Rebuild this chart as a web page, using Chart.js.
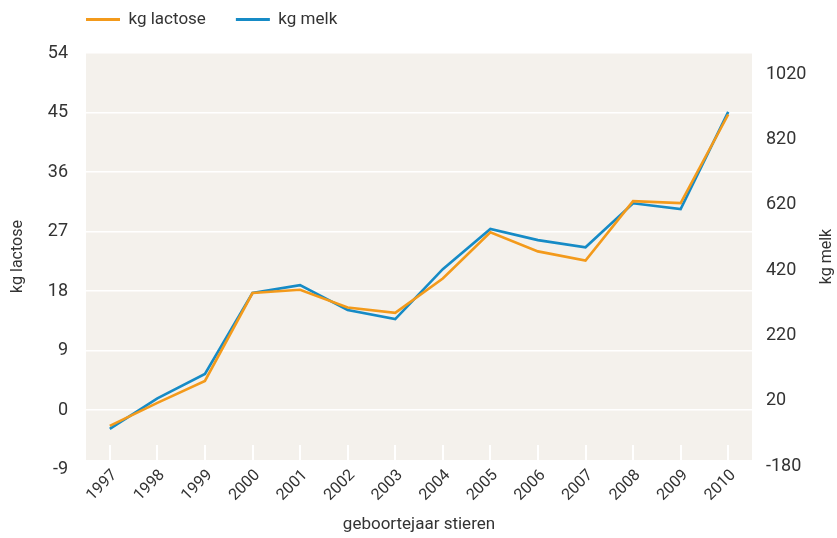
<!DOCTYPE html>
<html lang="nl">
  <head>
    <meta charset="UTF-8" />
    <title>kg lactose en kg melk per geboortejaar stieren</title>
    <style>
      body {
        margin: 0;
        padding: 0;
        background: #fff;
      }
      .chart-box {
        width: 837px;
        height: 538px;
      }
    </style>
  </head>
  <body>
    <div class="chart-box">
      <canvas id="lactoseChart"></canvas>
    </div>

    <script src="https://cdn.jsdelivr.net/npm/chart.js"></script>
    <script>
        // geboortejaar stieren
        const jaren = ['1997', '1998', '1999', '2000', '2001', '2002', '2003', '2004', '2005', '2006', '2007', '2008', '2009', '2010'];
        // kg lactose (linker as)
        const kgLactose = [-2.4, 1.1, 4.4, 17.7, 18.2, 15.5, 14.7, 19.9, 26.9, 24.0, 22.6, 31.6, 31.3, 44.7];
        // kg melk (rechter as)
        const kgMelk = [-66, 27, 102, 350, 374, 298, 270, 423, 546, 512, 490, 625, 607, 905];
        // aslabels
        const lactoseTicks = [-9, 0, 9, 18, 27, 36, 45, 54];
        const melkTicks = [-180, 20, 220, 420, 620, 820, 1020];

        const tekstKleur = '#333333';
        const fontFamily = 'Roboto, "Liberation Sans", sans-serif';

        // beige achtergrond van het plotvlak + titel rechter as (leesrichting van onder naar boven)
        const plotAchtergrond = {
            id: 'plotAchtergrond',
            beforeDraw(chart) {
                const { ctx, chartArea } = chart;
                ctx.save();
                ctx.fillStyle = '#f4f1ec';
                ctx.fillRect(chartArea.left, chartArea.top, chartArea.right - chartArea.left, chartArea.bottom - chartArea.top);
                ctx.restore();
            },
            afterDraw(chart) {
                const { ctx, chartArea } = chart;
                const as = chart.scales.y1;
                ctx.save();
                ctx.translate(as.right - 10, (chartArea.top + chartArea.bottom) / 2);
                ctx.rotate(-Math.PI / 2);
                ctx.fillStyle = tekstKleur;
                ctx.font = '16px ' + fontFamily;
                ctx.textAlign = 'center';
                ctx.textBaseline = 'middle';
                ctx.fillText('kg melk', 0, 0);
                ctx.restore();
            },
            // legenda links boven het plotvlak zetten
            afterLayout(chart) {
                const pad = chart.options.plugins.legend.labels.padding;
                chart.legend.left = chart.chartArea.left - pad;
                chart.legend.top = -19;
            }
        };

        const ctx = document.getElementById('lactoseChart').getContext('2d');
        const lactoseChart = new Chart(ctx, {
            type: 'line',
            data: {
                labels: jaren,
                datasets: [{
                    label: 'kg lactose',
                    data: kgLactose,
                    yAxisID: 'y',
                    borderColor: '#f39a1b',
                    backgroundColor: '#f39a1b',
                    borderWidth: 2.6,
                    pointRadius: 0,
                    tension: 0,
                }, {
                    label: 'kg melk',
                    data: kgMelk,
                    yAxisID: 'y1',
                    borderColor: '#168bc6',
                    backgroundColor: '#168bc6',
                    borderWidth: 2.6,
                    pointRadius: 0,
                    tension: 0,
                }]
            },
            options: {
                responsive: true,
                maintainAspectRatio: false,
                animation: false,
                layout: { padding: 0 },
                plugins: {
                    tooltip: { enabled: false },
                    legend: {
                        position: 'top',
                        align: 'start',
                        maxHeight: 53,
                        labels: {
                            boxWidth: 34,
                            boxHeight: 3,
                            padding: 30,
                            color: tekstKleur,
                            font: { family: fontFamily, size: 17 },
                            generateLabels(chart) {
                                return Chart.defaults.plugins.legend.labels.generateLabels(chart).map(item => {
                                    item.lineWidth = 0;
                                    return item;
                                });
                            }
                        }
                    }
                },
                scales: {
                    x: {
                        offset: true,
                        grid: {
                            offset: false,
                            drawOnChartArea: false,
                            drawTicks: true,
                            tickLength: -15,
                            color: '#ffffff',
                            lineWidth: 2,
                        },
                        border: { display: false },
                        ticks: {
                            color: tekstKleur,
                            font: { family: fontFamily, size: 16 },
                            maxRotation: 45,
                            minRotation: 45,
                            padding: 21,
                            labelOffset: 5,
                            autoSkip: false,
                        },
                        title: {
                            display: true,
                            text: 'geboortejaar stieren',
                            color: tekstKleur,
                            font: { family: fontFamily, size: 17 },
                            padding: { top: 0, bottom: 3 },
                        },
                        afterFit(axis) { axis.height = 78; }
                    },
                    y: {
                        position: 'left',
                        min: -7.55,
                        max: 54,
                        afterBuildTicks(axis) {
                            axis.ticks = lactoseTicks.map(value => ({ value }));
                        },
                        grid: {
                            color: '#ffffff',
                            lineWidth: 1.5,
                            drawTicks: false,
                        },
                        border: { display: false },
                        ticks: {
                            color: tekstKleur,
                            font: { family: fontFamily, size: 18 },
                            padding: 18,
                            callback: v => String(v),
                        },
                        title: {
                            display: true,
                            text: 'kg lactose',
                            color: tekstKleur,
                            font: { family: fontFamily, size: 16 },
                            padding: { top: 8, bottom: 0 },
                        },
                        afterFit(axis) { axis.width = 86; }
                    },
                    y1: {
                        position: 'right',
                        min: -161.6,
                        max: 1085.3,
                        afterBuildTicks(axis) {
                            axis.ticks = melkTicks.map(value => ({ value }));
                        },
                        grid: { drawOnChartArea: false, drawTicks: false },
                        border: { display: false },
                        ticks: {
                            color: tekstKleur,
                            font: { family: fontFamily, size: 18 },
                            padding: 14,
                            callback: v => String(v),
                        },
                        title: { display: false },
                        afterFit(axis) { axis.width = 85; }
                    }
                }
            },
            plugins: [plotAchtergrond]
        });
    </script>
  </body>
</html>
